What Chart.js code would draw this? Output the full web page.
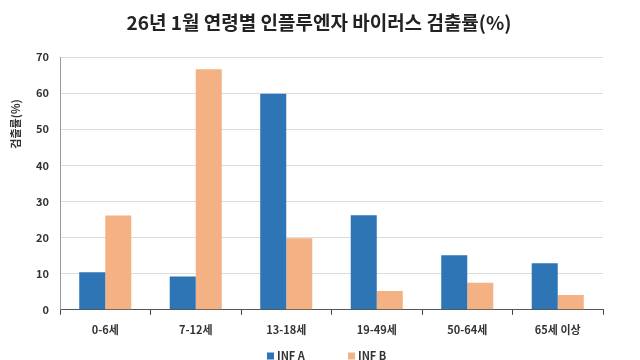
<!DOCTYPE html>
<html><head><meta charset="utf-8">
<script src="https://cdn.jsdelivr.net/npm/chart.js@4/dist/chart.umd.min.js"></script>
<style>html,body{margin:0;padding:0;background:#fff;overflow:hidden}#wrap{width:640px;height:360px;position:relative}</style>
</head><body><div id="wrap"><canvas id="c" width="640" height="360"></canvas></div>
<script>
const categories = ['0-6세', '7-12세', '13-18세', '19-49세', '50-64세', '65세 이상'];
const infA = [10.4, 9.2, 59.8, 26.2, 15.1, 12.9];
const infB = [26.1, 66.6, 19.8, 5.2, 7.5, 4.1];
const seriesNames = ['INF A', 'INF B'];
const seriesColors = ['#2E75B6', '#F4B183'];
const yTicks = [0, 10, 20, 30, 40, 50, 60, 70];
const titleText = '26년 1월 연령별 인플루엔자 바이러스 검출률(%)';
const yTitle = '검출률(%)';

const FONT = "'Noto Sans CJK KR', 'Noto Sans', sans-serif";

const extrasPlugin = {
  id: 'extrasPlugin',
  afterDraw(chart) {
    const ctx = chart.ctx;
    // main title
    ctx.save();
    ctx.font = 'bold 19px ' + FONT;
    ctx.fillStyle = '#222';
    ctx.textAlign = 'center';
    ctx.textBaseline = 'middle';
    ctx.fillText(titleText, 319, 23);
    ctx.restore();
    // y-axis title
    ctx.save();
    ctx.translate(16, 124);
    ctx.rotate(-Math.PI / 2);
    ctx.font = 'bold 11px ' + FONT;
    ctx.fillStyle = '#333';
    ctx.textAlign = 'center';
    ctx.textBaseline = 'middle';
    ctx.fillText(yTitle, 0, 0);
    ctx.restore();
    // legend
    ctx.save();
    ctx.font = 'bold 11px ' + FONT;
    ctx.textBaseline = 'middle';
    ctx.textAlign = 'left';
    const starts = [267, 348];
    const y = 356;
    chart.data.datasets.forEach((ds, i) => {
      ctx.fillStyle = ds.backgroundColor;
      ctx.fillRect(starts[i], y - 3.5, 7, 7);
      ctx.fillStyle = '#333';
      ctx.fillText(ds.label, starts[i] + 10, y);
    });
    ctx.restore();
  }
};

new Chart(document.getElementById('c'), {
  type: 'bar',
  data: {
    labels: categories,
    datasets: [
      { label: seriesNames[0], data: infA, backgroundColor: seriesColors[0], categoryPercentage: 0.575, barPercentage: 1.0 },
      { label: seriesNames[1], data: infB, backgroundColor: seriesColors[1], categoryPercentage: 0.575, barPercentage: 1.0 }
    ]
  },
  options: {
    responsive: false,
    animation: false,
    layout: { padding: { left: 0, right: 37, top: 57, bottom: 16 } },
    plugins: {
      title: { display: false },
      legend: { display: false },
      tooltip: { enabled: false }
    },
    scales: {
      x: {
        grid: { display: true, offset: true, drawOnChartArea: false, drawTicks: true, tickLength: 5, color: '#444' },
        border: { color: '#555', width: 1 },
        ticks: { color: '#333', padding: 8, font: { family: FONT, size: 11, weight: 'bold' }, maxRotation: 0 }
      },
      y: {
        min: 0, max: 70,
        afterBuildTicks(scale) { scale.ticks = yTicks.map(v => ({ value: v })); },
        afterFit(scale) { scale.width = 60; },
        grid: { color: '#dcdcdc', drawTicks: false },
        border: { color: '#999', width: 1 },
        ticks: { color: '#333', padding: 11, font: { family: FONT, size: 11, weight: 'bold' } }
      }
    }
  },
  plugins: [extrasPlugin]
});
</script>
</body></html>
